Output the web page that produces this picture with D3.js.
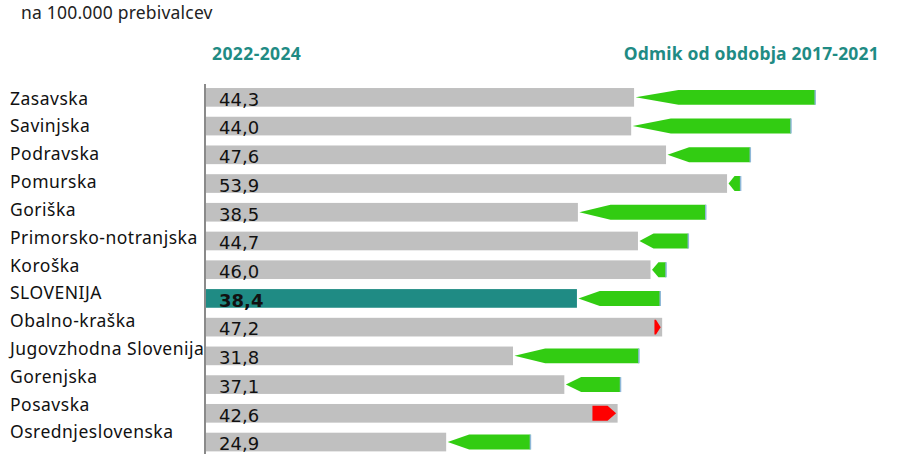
<!DOCTYPE html>
<html><head><meta charset="utf-8">
<script src="https://cdn.jsdelivr.net/npm/d3@7"></script>
<style>html,body{margin:0;padding:0;background:#fff;}svg{display:block;}</style>
</head><body>
<div id="chart"></div>
<script>
const regions = ["Zasavska","Savinjska","Podravska","Pomurska","Goriška","Primorsko-notranjska","Koroška","SLOVENIJA","Obalno-kraška","Jugovzhodna Slovenija","Gorenjska","Posavska","Osrednjeslovenska"];
const current = [44.3,44.0,47.6,53.9,38.5,44.7,46.0,38.4,47.2,31.8,37.1,42.6,24.9];
const previous = [63.0,60.5,56.3,55.3,51.7,49.9,47.6,47.0,46.4,44.8,42.9,40.0,33.6];
const unitLabel = "na 100.000 prebivalcev";
const headerLeft = "2022-2024";
const headerRight = "Odmik od obdobja 2017-2021";

const W = 898, H = 466;
const teal = "#1f8b84", gray = "#c0c0c0", green = "#32cc12", red = "#ff0000";
const labelFont = "'Noto Sans', 'Open Sans', sans-serif";
const valueFont = "'DejaVu Sans', Verdana, sans-serif";

const svg = d3.select("#chart").append("svg").attr("width", W).attr("height", H);

const x = d3.scaleLinear().domain([0, 70]).range([205, 883]);
const y = d3.scaleBand().domain(regions).range([83, 456.4]).paddingInner(0.35).paddingOuter(0.175);
const yLab = d3.scalePoint().domain(regions).range([104.6, 438.4]);

const data = regions.map((r, i) => ({ r, cur: current[i], prev: previous[i], total: r === "SLOVENIJA" }));

// title & headers
svg.append("text").attr("x", 21).attr("y", 18.5).attr("font-family", labelFont).attr("font-size", 17.5)
  .attr("letter-spacing", 0.2).attr("fill", "#222").text(unitLabel);
svg.append("text").attr("x", 212).attr("y", 59.5).attr("font-family", labelFont).attr("font-size", 17.5)
  .attr("letter-spacing", 0.4).attr("font-weight", "bold").attr("fill", teal).text(headerLeft);
svg.append("text").attr("x", 879).attr("y", 59.5).attr("text-anchor", "end").attr("font-family", labelFont).attr("font-size", 17.5)
  .attr("letter-spacing", 0.2).attr("font-weight", "bold").attr("fill", teal).text(headerRight);

// bars
svg.append("g").selectAll("rect").data(data).join("rect")
  .attr("x", x(0)).attr("y", d => y(d.r)).attr("width", d => x(d.cur) - x(0)).attr("height", y.bandwidth())
  .attr("fill", d => d.total ? teal : gray);

// arrows
const ah = y.bandwidth() * 0.8;
const arrows = svg.append("g");
data.forEach(d => {
  const cy = y(d.r) + y.bandwidth() / 2;
  const x1 = x(d.cur), x0 = x(d.prev);
  const len = Math.abs(x0 - x1);
  const head = 0.22 * len + 3;
  const dir = x0 > x1 ? 1 : -1; // 1 => decrease (arrow points left)
  const tip = x1 + dir * 1.5;
  const hb = tip + dir * head;
  const pts = [[tip, cy], [hb, cy - ah / 2], [x0, cy - ah / 2], [x0, cy + ah / 2], [hb, cy + ah / 2]];
  arrows.append("path").attr("d", d3.line()(pts) + "Z").attr("fill", dir > 0 ? green : red);
  if (dir > 0) {
    arrows.append("line").attr("x1", x0).attr("x2", x0).attr("y1", cy - ah / 2).attr("y2", cy + ah / 2)
      .attr("stroke", "#8fb8d8").attr("stroke-width", 1.5);
  }
});

// axis line
svg.append("line").attr("x1", 205).attr("x2", 205).attr("y1", 84).attr("y2", 454)
  .attr("stroke", "#8a8a8a").attr("stroke-width", 2);

// value labels
svg.append("g").selectAll("text").data(data).join("text")
  .attr("x", 219).attr("y", d => y(d.r) + y.bandwidth() - 1)
  .attr("font-family", valueFont).attr("font-size", 18)
  .attr("font-weight", d => d.total ? "bold" : "normal")
  .attr("fill", "#111")
  .text(d => d.cur.toFixed(1).replace(".", ","));

// category labels
svg.append("g").selectAll("text").data(data).join("text")
  .attr("x", 10).attr("y", d => yLab(d.r))
  .attr("font-family", labelFont).attr("font-size", 17.5).attr("letter-spacing", 0.5)
  .attr("fill", "#111")
  .text(d => d.r);
</script>
</body></html>
